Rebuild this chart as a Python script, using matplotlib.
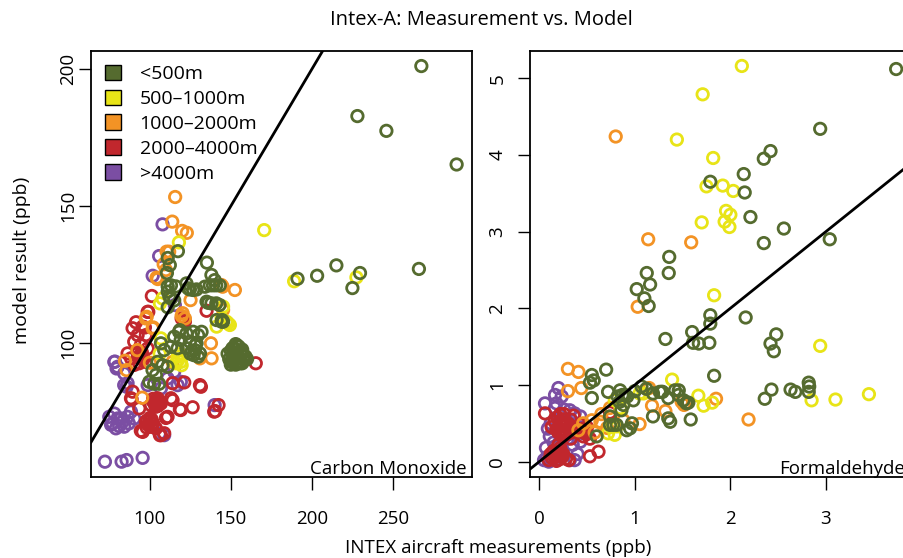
import matplotlib.pyplot as plt
from matplotlib.patches import Patch

plt.rcParams['font.family'] = ['Open Sans', 'DejaVu Sans']

groups = ['<500m', '500\u20131000m', '1000\u20132000m', '2000\u20134000m', '>4000m']
colors = ['#556b2f', '#e8e417', '#f39325', '#c1272d', '#7b4ea3']

# ---- Carbon Monoxide (ppb): measured x, model y ----
co_x_g = [267.7, 228.2, 246.1, 289.5, 266.2, 215.2, 203.3, 191.2, 229.8, 225.1, 135.2,
          111, 117.3, 112.3, 110.5, 111, 113, 116, 111, 112, 115, 122.6, 124.7, 128.8,
          138, 140, 137, 141, 136, 141, 143, 144.6, 113, 111, 118, 115, 119, 106.8, 108.8,
          113, 117.1, 104.7, 107.8, 110.9, 101.6, 103.7, 99.6, 102.6, 105.7, 123.6, 126.7,
          134, 139, 143.2, 135, 138, 141.2, 144.3, 145.2, 118.5, 122.6, 126.7, 129.8, 131.9,
          124.7, 128.8, 127.8, 130.9, 129.8, 122.6, 148, 150, 152, 154, 156, 158, 160, 149,
          151, 153, 155, 157, 152, 154, 150, 156, 153, 126, 128, 125, 127,
          151, 153, 155, 157, 159, 150, 152, 154, 156, 158, 153, 155, 151, 157]
co_y_g = [201.2, 182.9, 177.5, 165.2, 127.0, 128.3, 124.5, 123.4, 125.5, 120.0, 129.3,
          131, 133.5, 128.4, 125.5, 120.6, 121, 120.6, 113, 117, 115.5, 121.7, 119.5, 119.5,
          124.8, 122.9, 121, 121, 114.6, 114.4, 113.8, 108.3, 116.2, 118.7, 104, 102.2, 101,
          99.8, 97.3, 98.5, 98, 93, 91.8, 91.2, 90, 88.2, 85.7, 85, 85, 119.9, 119.3, 120.5,
          121, 121, 115, 114.4, 108.3, 107.7, 107.7, 104.6, 103.4, 104, 102.8, 104, 100.4,
          99.8, 97.3, 96.1, 94.9, 98, 96, 97, 98, 99, 97, 95, 94, 94, 93, 92, 93, 92.5, 95,
          96, 92, 93, 94.5, 97, 99, 96, 95.5,
          98, 99.5, 98.5, 96, 95, 93, 93.5, 92.5, 92.5, 93.5, 96.5, 94.5, 95.5, 97.5]

co_x_y = [170.6, 189.1, 227.6, 117.9, 106.2, 145.2, 148.3, 141.2, 117.5, 118.5, 106,
          147.3, 149.4, 119.6, 106.8, 117.1, 119.1, 116, 107.8, 144.3]
co_y_y = [141.2, 122.5, 123.9, 136.7, 114.4, 113.2, 107.1, 105.9, 93.7, 96, 96,
          107.7, 106.5, 91.8, 101.6, 94.9, 93, 92.5, 116.2, 108.9]

co_x_o = [115.6, 113.8, 119.9, 122.8, 152.5, 144.9, 104.1, 110.3, 137.7, 138.1, 130.9,
          125.1, 119.6, 98, 102, 92.2, 100, 84.6, 85.6, 95.2, 145.2, 108.5, 109.9, 104.8,
          144.2, 120.2, 121.6, 97.5, 101.7, 114, 111.9]
co_y_o = [153.3, 144.3, 140.9, 140.2, 119.3, 120.5, 123.8, 133.3, 99.8, 94.3, 94.3,
          115.6, 109.8, 109.5, 105.6, 97.3, 92.7, 93.4, 90, 79.9, 112, 128.7, 126.6, 123.3,
          121.1, 110.8, 108.9, 108.9, 105.3, 93, 133.3]

co_x_r = [101.2, 99, 91.4, 96.9, 120.6, 135, 165.4, 121.2, 130.9, 114, 118.5, 126.4,
          142.4, 140.3, 109.9, 94.4, 106.2, 88.7, 98.6, 89.3, 95.5, 92.4, 97.5, 90.3, 94.4,
          98.6, 86.2, 88.3, 92.4, 95.5, 97.5, 93.4, 90.3, 114, 119.6, 121.6, 88.3, 93.4,
          104.7, 100.6, 103.7, 106.8, 113, 119.1, 131.5, 139.7, 110.9, 99.6, 101.7, 100.6,
          97.5, 95.5, 103.7, 106.8, 108.8, 89.3, 102, 104, 105, 99, 101, 98,
          102, 104, 106, 103, 105, 98, 100, 102, 99, 101, 94, 96, 95, 93]
co_y_r = [117.1, 111.3, 107.5, 105.6, 108.3, 111.7, 92.5, 85.5, 84.5, 79, 75.6, 76.4,
          77.2, 75, 72.5, 67.8, 66.2, 79.3, 111.3, 105.3, 105.9, 102.8, 102.8, 100.4, 99.2,
          97.9, 96.1, 94.3, 96.1, 94.9, 93, 92.5, 91.9, 85.2, 108.9, 107.7, 79.7, 76, 79.7,
          77.2, 76.6, 77.8, 79.7, 75.4, 83.9, 74.8, 72.9, 71.7, 70.5, 69.3, 71.1, 67.4, 68.7,
          66.2, 66.9, 82.1, 78.5, 78, 77, 70, 72, 69,
          79.5, 79, 78.5, 77.5, 77, 71.5, 72.5, 70.5, 70, 69.5, 95.5, 94, 96.5, 94.5]

co_x_p = [107.8, 105.7, 101.7, 115.4, 78.4, 79.4, 85.6, 72.2, 82.5, 85.6, 95.5, 140,
          106, 108.8, 74.9, 78, 80, 77, 79, 83.1, 86.2, 88.3, 90.3, 84.1, 82.1, 84.1, 98.6,
          106.8, 117.1, 78, 80, 84.1, 86.2, 115, 119.1, 110.9, 76, 81, 87]
co_y_p = [143.3, 131.7, 124.5, 113.8, 93.1, 90.6, 83.9, 56.5, 56.5, 57.1, 57.9, 77.2,
          66.8, 66.2, 72.9, 74.1, 72.3, 70.5, 68.7, 71.1, 72.9, 74.8, 72.3, 69.3, 72.3, 84.5,
          84.5, 83.3, 84.5, 93, 91.2, 88.8, 85.2, 89.4, 85.7, 87, 70, 69.5, 70.5]

# ---- Formaldehyde (ppb) ----
hc_x_g = [3.735, 2.94, 2.42, 2.35, 2.14, 2.15, 1.79, 2.21, 2.56, 2.35, 3.04, 1.36, 1.355,
          1.125, 1.16, 1.02, 1.10, 1.145, 1.79, 1.79, 2.16, 1.32, 1.60, 1.61, 1.67, 1.78,
          2.48, 2.42, 2.455, 1.83, 2.82, 2.825, 2.82, 2.63, 2.68, 2.43, 2.36, 0.70, 0.55,
          0.57, 0.53, 0.72, 0.55, 0.90, 0.985, 1.07, 1.19, 1.28, 1.35, 1.42, 1.455, 1.51,
          1.54, 1.19, 1.35, 1.37, 1.585, 0.88, 0.97, 0.95, 0.915, 0.845, 0.82, 0.87,
          0.92, 0.84, 0.86, 0.74, 0.775, 0.81, 0.60, 0.74, 1.0, 1.12, 1.26, 1.29, 1.46, 1.56]
hc_y_g = [5.12, 4.34, 4.05, 3.95, 3.75, 3.51, 3.65, 3.19, 3.04, 2.85, 2.90, 2.67, 2.46,
          2.46, 2.31, 2.25, 2.13, 2.03, 1.91, 1.80, 1.88, 1.60, 1.69, 1.55, 1.54, 1.55,
          1.66, 1.54, 1.44, 1.12, 1.03, 0.98, 0.91, 0.94, 0.91, 0.94, 0.82, 1.20, 1.13,
          1.06, 1.03, 0.91, 0.83, 0.87, 0.80, 0.98, 0.89, 0.91, 0.83, 0.93, 0.87, 0.80,
          0.76, 0.59, 0.565, 0.52, 0.55, 0.74, 0.50, 0.435, 0.41, 0.93, 0.85, 0.87,
          0.85, 0.78, 0.67, 0.48, 0.48, 0.48, 0.33, 0.59, 0.92, 0.95, 0.91, 0.91, 0.93, 0.77]

hc_x_y = [2.12, 1.71, 1.44, 1.82, 1.75, 1.92, 2.03, 1.955, 2.0, 1.94, 1.99, 1.70, 1.83,
          2.94, 1.39, 1.665, 1.72, 1.81, 2.85, 3.10, 3.45, 0.72, 0.79, 0.81, 1.05, 0.79,
          0.85, 1.09, 0.75]
hc_y_y = [5.16, 4.79, 4.20, 3.96, 3.59, 3.6, 3.53, 3.27, 3.22, 3.13, 3.06, 3.12, 2.17,
          1.51, 1.07, 0.86, 0.73, 0.77, 0.80, 0.81, 0.88, 0.37, 0.35, 0.46, 0.89, 0.80,
          0.70, 0.89, 0.45]

hc_x_o = [0.80, 1.14, 1.59, 1.03, 0.30, 0.41, 0.30, 0.44, 2.19, 1.85, 1.18, 1.32, 1.05,
          1.15, 1.515, 0.41, 0.46, 0.55, 0.64, 0.71, 0.58, 0.74, 1.49, 0.88, 0.65]
hc_y_o = [4.24, 2.90, 2.86, 2.02, 1.21, 1.17, 0.92, 0.96, 0.55, 0.82, 0.73, 0.66, 0.49,
          0.96, 0.74, 0.41, 0.50, 0.54, 0.52, 0.44, 0.38, 0.70, 0.78, 0.54, 0.62]

hc_x_r = [0.06, 0.74, 0.53, 0.62, 0.13, 0.16, 0.19, 0.22, 0.25, 0.28, 0.31, 0.34, 0.37,
          0.20, 0.24, 0.27, 0.30, 0.33, 0.36, 0.18, 0.23, 0.28, 0.33, 0.26, 0.44, 0.47,
          0.50, 0.53, 0.46, 0.50, 0.43, 0.49, 0.10, 0.13, 0.16, 0.19, 0.22, 0.25, 0.28,
          0.31, 0.15, 0.20, 0.24, 0.18, 0.12,
          0.20, 0.22, 0.24, 0.26, 0.21, 0.23, 0.25, 0.27, 0.45, 0.48, 0.46, 0.49, 0.17,
          0.19, 0.21, 0.23, 0.20, 0.22]
hc_y_r = [0.63, 0.64, 0.07, 0.13, 0.45, 0.52, 0.58, 0.62, 0.55, 0.48, 0.42, 0.38, 0.45,
          0.38, 0.33, 0.40, 0.50, 0.55, 0.60, 0.42, 0.47, 0.35, 0.30, 0.62, 0.48, 0.42,
          0.36, 0.30, 0.33, 0.45, 0.40, 0.38, 0.02, 0.05, 0.08, 0.12, 0.18, 0.10, 0.04,
          0.02, 0.14, 0.22, 0.06, 0.01, 0.10,
          0.44, 0.49, 0.42, 0.46, 0.52, 0.40, 0.50, 0.36, 0.39, 0.37, 0.43, 0.41, 0.06,
          0.09, 0.03, 0.07, 0.12, 0.14]

hc_x_p = [0.06, 0.20, 0.165, 0.235, 0.18, 0.165, 0.32, 0.37, 0.43, 0.09, 0.11, 0.10,
          0.13, 0.17, 0.37, 0.32, 0.46, 0.43, 0.20, 0.15, 0.25, 0.05, 0.08, 0.30, 0.12,
          0.26, 0.22, 0.35, 0.40, 0.07, 0.14]
hc_y_p = [0.76, 0.96, 0.87, 0.85, 0.76, 0.70, 0.67, 0.63, 0.59, 0.43, 0.33, 0.0, 0.04,
          0.02, 0.02, 0.02, 0.37, 0.26, 0.20, 0.25, 0.10, 0.02, 0.06, 0.30, 0.50, 0.68,
          0.60, 0.22, 0.10, 0.18, 0.12]

co_data = [(co_x_g, co_y_g), (co_x_y, co_y_y), (co_x_o, co_y_o), (co_x_r, co_y_r), (co_x_p, co_y_p)]
hc_data = [(hc_x_g, hc_y_g), (hc_x_y, hc_y_y), (hc_x_o, hc_y_o), (hc_x_r, hc_y_r), (hc_x_p, hc_y_p)]

fig = plt.figure(figsize=(9.04, 5.58), dpi=100)
ax1 = fig.add_axes([91 / 904, 81 / 558, 381 / 904, 426 / 558])
ax2 = fig.add_axes([530 / 904, 81 / 558, 380 / 904, 426 / 558])


def panel(ax, data, name, xlim, ylim, xticks, yticks, ypad):
    # draw purple first, green last
    for (xs, ys), c in reversed(list(zip(data, colors))):
        ax.scatter(xs, ys, s=68, facecolors='none', edgecolors=c, linewidths=2.0, zorder=2)
    ax.axline((0, 0), slope=1, color='black', lw=2, zorder=3)
    ax.set_xlim(xlim)
    ax.set_ylim(ylim)
    ax.set_xticks(xticks)
    ax.set_yticks(yticks)
    for s in ax.spines.values():
        s.set_linewidth(1.3)
    ax.tick_params(axis='both', length=9, width=1, labelsize=13.5)
    ax.tick_params(axis='x', pad=15)
    ax.tick_params(axis='y', pad=ypad)
    for lab in ax.get_yticklabels():
        lab.set_rotation(90)
        lab.set_va('center')
    ax.text(0.987, 0.007, name, transform=ax.transAxes, ha='right', va='baseline',
            fontsize=13.5, zorder=4)


panel(ax1, co_data, 'Carbon Monoxide', (63.6, 299), (50.9, 206.7),
      [100, 150, 200, 250], [100, 150, 200], 1)
panel(ax2, hc_data, 'Formaldehyde', (-0.097, 3.88), (-0.2, 5.355),
      [0, 1, 2, 3], [0, 1, 2, 3, 4, 5], 8)

handles = [Patch(facecolor=c, edgecolor='black', linewidth=1) for c in colors]
ax1.legend(handles, groups, loc='upper left', frameon=False, fontsize=14,
           handlelength=0.85, handleheight=0.85, handletextpad=0.95, labelspacing=0.33,
           borderaxespad=0.4, borderpad=0.3)

fig.text(481 / 904, 1 - 20 / 558, 'Intex-A: Measurement vs. Model', ha='center',
         va='center', fontsize=14.5)
fig.text(498 / 904, 1 - 548 / 558, 'INTEX aircraft measurements (ppb)', ha='center',
         va='center', fontsize=13.5)
fig.text(22 / 904, 1 - 260 / 558, 'model result (ppb)', ha='center', va='center',
         rotation=90, fontsize=14)

fig.savefig('out.png', dpi=100)
